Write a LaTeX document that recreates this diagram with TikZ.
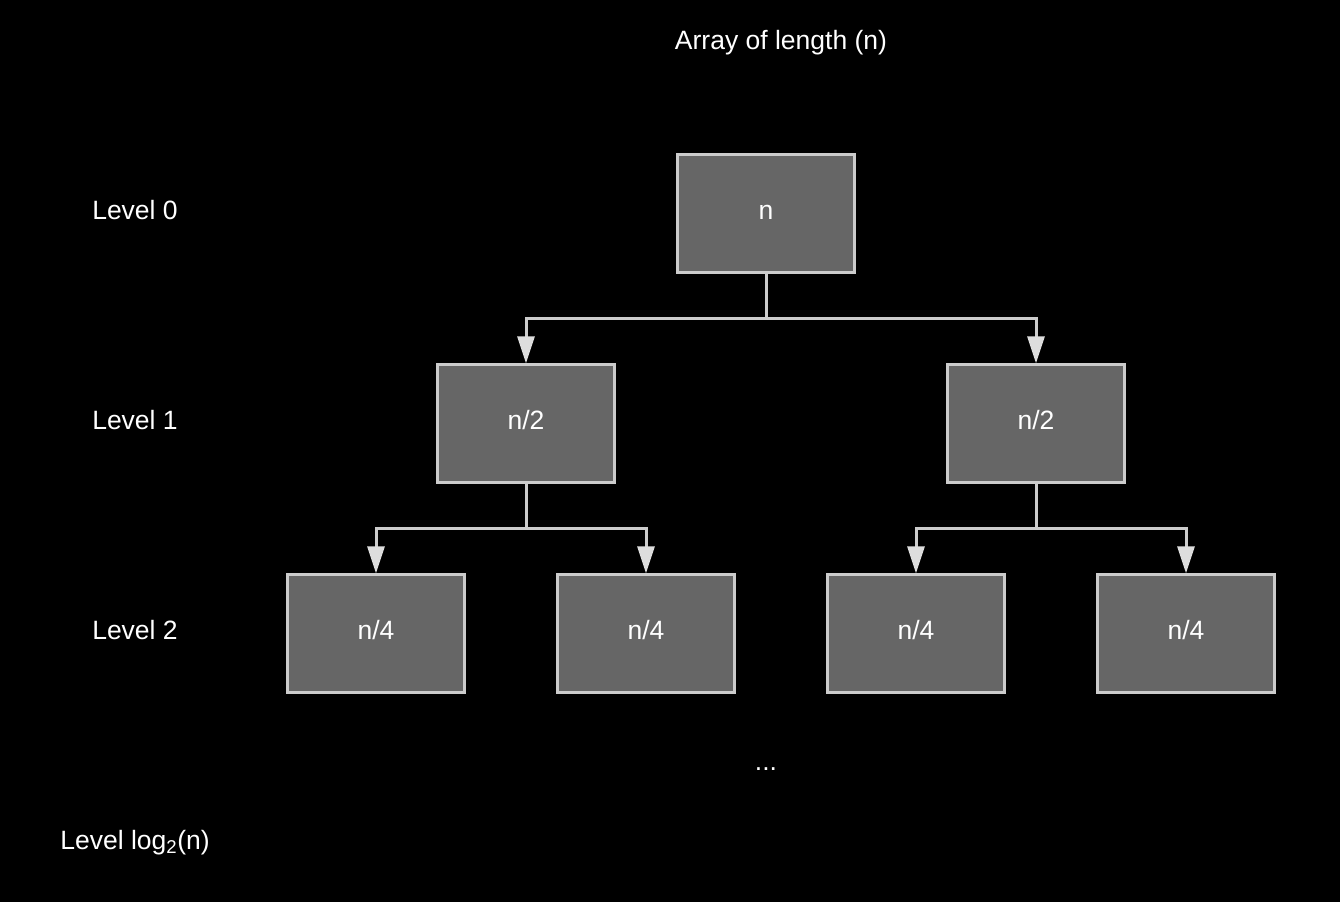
\documentclass[tikz,border=0pt]{standalone}
\usepackage{fontspec}
\setmainfont{Liberation Sans}
\usetikzlibrary{arrows.meta}
\begin{document}
\begin{tikzpicture}[x=1pt,y=-1pt,
  box/.style={draw=boxline,fill=boxfill,line width=3pt,minimum width=177pt,minimum height=118pt,inner sep=0pt,text=white,text height=17pt,text depth=6pt,font=\fontsize{26.5}{32}\selectfont},
  lbl/.style={text=white,font=\fontsize{26.5}{32}\selectfont,inner sep=0pt,anchor=base},
  conn/.style={draw=boxline,line width=3pt,-{Triangle[width=17pt,length=27pt,fill=arrowc,color=arrowc]}}]
\definecolor{boxfill}{HTML}{666666}
\definecolor{boxline}{HTML}{CCCCCC}
\definecolor{arrowc}{HTML}{DDDDDD}
\fill[black] (0,0) rectangle (1340,902);
\useasboundingbox (0,0) rectangle (1340,902);
\node[lbl] (title) at (781,49) {Array of length (n)};
\node[lbl] (lv0) at (135,219) {Level 0};
\node[lbl] (lv1) at (135,429) {Level 1};
\node[lbl] (lv2) at (135,639) {Level 2};
\node[lbl] (lvn) at (135,849) {Level log\textsubscript{2}(n)};
\node[lbl] (dots) at (766,770) {...};
\node[box] (r) at (766,213.8) {n};
\node[box] (a) at (526,423.8) {n/2};
\node[box] (b) at (1036,423.8) {n/2};
\node[box] (a1) at (376,633.8) {n/4};
\node[box] (a2) at (646,633.8) {n/4};
\node[box] (b1) at (916,633.8) {n/4};
\node[box] (b2) at (1186,633.8) {n/4};
\draw[conn] (r.south) -- ++(0,44.5) -| (a.north);
\draw[conn] (r.south) -- ++(0,44.5) -| (b.north);
\draw[conn] (a.south) -- ++(0,44.5) -| (a1.north);
\draw[conn] (a.south) -- ++(0,44.5) -| (a2.north);
\draw[conn] (b.south) -- ++(0,44.5) -| (b1.north);
\draw[conn] (b.south) -- ++(0,44.5) -| (b2.north);
\end{tikzpicture}
\end{document}
